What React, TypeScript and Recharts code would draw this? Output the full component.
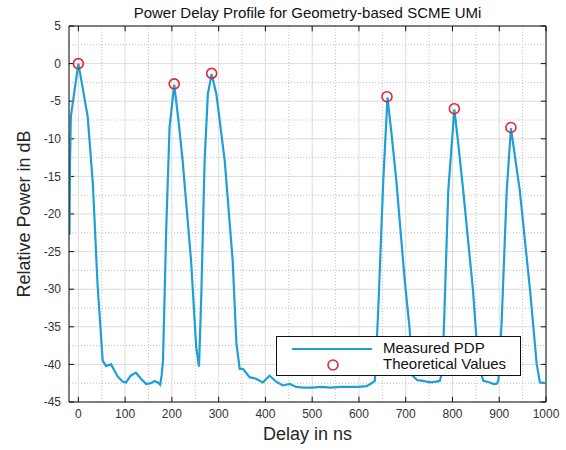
import React from "react"
import {
    ComposedChart, Line, Scatter, XAxis, YAxis, CartesianGrid, ReferenceLine, Legend
} from "recharts"

// measured power delay profile (delay ns, power dB)
const delays = [
    -20, -19, -18, -16, 0, 10, 20, 31, 41, 52, 59, 70, 84, 95, 102, 112, 123, 134, 145, 155, 163,
    170, 175, 178, 181, 188, 195, 205, 214, 223, 241, 252, 258, 263, 270, 277, 285, 295, 313, 330, 338,
    345, 352, 366, 380, 394, 409, 423, 437, 452, 466, 480, 500, 520, 540, 560, 580, 600, 616, 627, 634,
    641, 652, 661, 670, 680, 698, 708, 715, 725, 737, 752, 765, 773, 778, 782, 791, 804, 813, 823, 844,
    855, 866, 880, 887, 894, 898, 901, 905, 916, 925, 934, 944, 966, 980, 987, 1000
]
const measured = [
    -22.6, -22.6, -14, -7, 0, -3.5, -7.1, -16, -29.3, -39.5, -40.2, -40, -41.6, -42.3, -42.4, -41.5, -41.1, -41.9, -42.6, -42.5, -42.2,
    -42.4, -42.7, -41.5, -39.5, -21.8, -8.5, -2.8, -7.5, -12.9, -26.2, -37.7, -40.3, -30.6, -12.9, -4, -1.4, -4, -12.9, -26.2, -37.2,
    -40.6, -40.6, -41.7, -41.9, -42.4, -41.5, -42.3, -42.8, -42.6, -43.0, -43.1, -43.1, -43.0, -43.1, -43.0, -43.0, -43.0, -42.9, -42.5, -42.2,
    -33.2, -15.6, -4.5, -9.5, -15.6, -28.9, -35, -41.5, -42.1, -42.2, -42.4, -42.3, -42.2, -41, -34.6, -16.9, -6.1, -11, -16.9, -30.2,
    -39.9, -42.2, -42.4, -42.6, -42.6, -42.2, -39, -34.6, -16.9, -8.6, -12.5, -16.9, -30.2, -39.9, -42.4, -42.5
]

// theoretical path values
const theoDelays = [0, 205, 285, 660, 804, 925]
const theoPower = [0, -2.7, -1.3, -4.4, -6.0, -8.5]

const xTicks = [0, 100, 200, 300, 400, 500, 600, 700, 800, 900, 1000]
const yTicks = [5, 0, -5, -10, -15, -20, -25, -30, -35, -40, -45]
const xMinor = [50, 150, 250, 350, 450, 550, 650, 750, 850, 950]
const yMinor = [2.5, -2.5, -7.5, -12.5, -17.5, -22.5, -27.5, -32.5, -37.5, -42.5]

const seriesNames = ["Measured PDP", "Theoretical Values"]

const pdpData = delays.map((d, i) => ({ delay: d, power: measured[i] }))
const theoData = theoDelays.map((d, i) => ({ delay: d, power: theoPower[i] }))

const LINE_COLOR = "#1f9fd6"
const CIRCLE_COLOR = "#e0282e"
const AXIS_COLOR = "#111"
const FONT = "'Liberation Sans', Arial, Helvetica, sans-serif"
const X_MIN = -20, X_MAX = 1000, Y_MIN = -45, Y_MAX = 5
// inward tick length, in data units (~5px)
const X_TICK_LEN = 0.7
const Y_TICK_LEN = 11

function RingShape(props: any) {
    return <circle cx={props.cx} cy={props.cy} r={5} fill="none" stroke={CIRCLE_COLOR} strokeWidth={1.6} />
}

function LegendBox() {
    return (
        <div style={{
            width: 243, height: 38, border: "1px solid #111", background: "#fff",
            fontFamily: FONT, fontSize: 15, color: "#111", position: "relative"
        }}>
            <svg width={100} height={38} style={{ position: "absolute", left: 0, top: 0 }}>
                <line x1={15} x2={95} y1={12} y2={12} stroke={LINE_COLOR} strokeWidth={2} />
                <circle cx={56} cy={28} r={5} fill="none" stroke={CIRCLE_COLOR} strokeWidth={1.6} />
            </svg>
            <div style={{ position: "absolute", left: 106, top: 3, lineHeight: "16px" }}>{seriesNames[0]}</div>
            <div style={{ position: "absolute", left: 106, top: 19, lineHeight: "16px" }}>{seriesNames[1]}</div>
        </div>
    )
}

export default function App() {
    return (
        <div style={{ position: "absolute", left: 0, top: 0, width: 566, height: 450, background: "#fff", fontFamily: FONT }}>
            <div style={{ position: "absolute", left: 69, width: 477, top: 4, textAlign: "center", fontSize: 15, color: "#111" }}>
                Power Delay Profile for Geometry-based SCME UMi
            </div>
            <div style={{
                position: "absolute", left: 24, top: 214, fontSize: 18, color: "#262626", whiteSpace: "nowrap",
                transform: "translate(-50%, -50%) rotate(-90deg)"
            }}>
                Relative Power in dB
            </div>
            <div style={{ position: "absolute", left: 69, width: 477, top: 424, textAlign: "center", fontSize: 18, color: "#262626" }}>
                Delay in ns
            </div>
            <ComposedChart width={566} height={450} margin={{ top: 26, right: 20, bottom: 0, left: 0 }}>
                <CartesianGrid stroke="#dcdcdc" strokeWidth={1} />
                {xMinor.map(v => (
                    <ReferenceLine key={"xm" + v} x={v} stroke="#c0c0c0" strokeDasharray="1 2" />
                ))}
                {yMinor.map(v => (
                    <ReferenceLine key={"ym" + v} y={v} stroke="#c0c0c0" strokeDasharray="1 2" />
                ))}
                <XAxis dataKey="delay" type="number" domain={[X_MIN, X_MAX]} ticks={xTicks} allowDataOverflow
                    height={48} tickLine={false} tickSize={0} tickMargin={7} stroke={AXIS_COLOR}
                    tick={{ fill: "#333", fontSize: 12 }} />
                <YAxis dataKey="power" type="number" domain={[Y_MIN, Y_MAX]} ticks={yTicks} allowDataOverflow
                    width={69} tickLine={false} tickSize={0} tickMargin={8} stroke={AXIS_COLOR}
                    tick={{ fill: "#333", fontSize: 12 }} />
                {/* box: top and right edges */}
                <ReferenceLine y={Y_MAX} stroke={AXIS_COLOR} />
                <ReferenceLine x={X_MAX} stroke={AXIS_COLOR} />
                {/* inward ticks on all four sides */}
                {xTicks.map(v => (
                    <ReferenceLine key={"tb" + v} stroke={AXIS_COLOR}
                        segment={[{ x: v, y: Y_MIN }, { x: v, y: Y_MIN + X_TICK_LEN }]} />
                ))}
                {xTicks.map(v => (
                    <ReferenceLine key={"tt" + v} stroke={AXIS_COLOR}
                        segment={[{ x: v, y: Y_MAX }, { x: v, y: Y_MAX - X_TICK_LEN }]} />
                ))}
                {yTicks.map(v => (
                    <ReferenceLine key={"tl" + v} stroke={AXIS_COLOR}
                        segment={[{ x: X_MIN, y: v }, { x: X_MIN + Y_TICK_LEN, y: v }]} />
                ))}
                {yTicks.map(v => (
                    <ReferenceLine key={"tr" + v} stroke={AXIS_COLOR}
                        segment={[{ x: X_MAX, y: v }, { x: X_MAX - Y_TICK_LEN, y: v }]} />
                ))}
                <Line data={pdpData} dataKey="power" name={seriesNames[0]} type="linear" stroke={LINE_COLOR}
                    strokeWidth={2.2} dot={false} isAnimationActive={false} />
                <Scatter data={theoData} dataKey="power" name={seriesNames[1]} shape={RingShape}
                    isAnimationActive={false} />
                <Legend layout="horizontal" verticalAlign="middle" align="center" content={LegendBox}
                    wrapperStyle={{ left: 276, top: 336, width: 245 }} />
            </ComposedChart>
        </div>
    )
}
